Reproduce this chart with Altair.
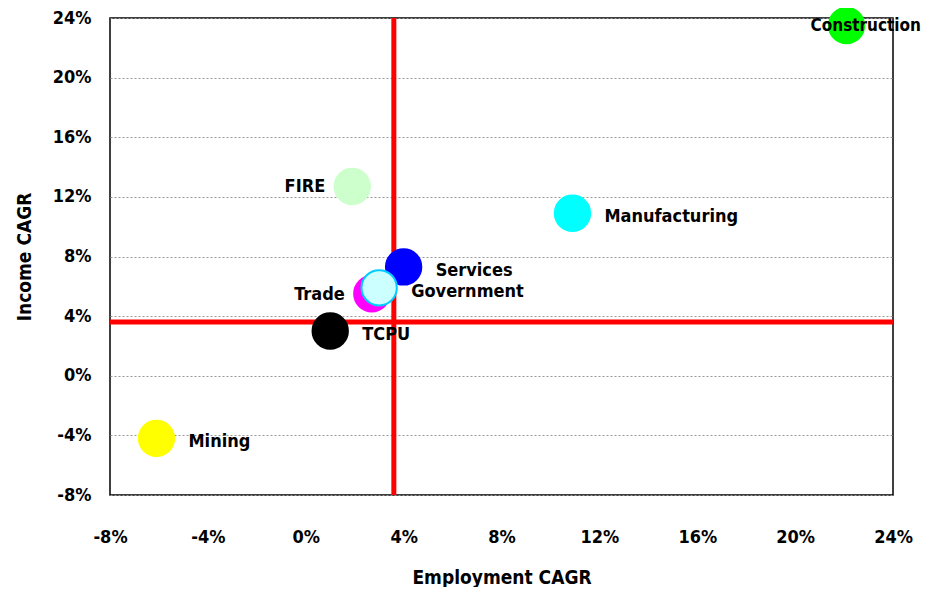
import altair as alt
import pandas as pd

sectors = ["Construction", "FIRE", "Manufacturing", "Services", "Trade", "Government", "TCPU", "Mining"]
employment = [0.221, 0.019, 0.109, 0.040, 0.027, 0.030, 0.010, -0.061]
income = [0.235, 0.127, 0.109, 0.073, 0.055, 0.059, 0.030, -0.042]
colors = ["#00FF00", "#CCFFCC", "#00FFFF", "#0000FF", "#FF00FF", "#CCFFFF", "#000000", "#FFFF00"]
strokes = ["#00FF00", "#CCFFCC", "#00FFFF", "#0000FF", "#FF00FF", "#00CCFF", "#000000", "#FFFF00"]
emp_mean = 0.036
inc_mean = 0.036
ticks = [-0.08, -0.04, 0.0, 0.04, 0.08, 0.12, 0.16, 0.20, 0.24]

df = pd.DataFrame({"sector": sectors, "emp": employment, "inc": income,
                   "order": list(range(len(sectors)))})

FONT = "DejaVu Sans Condensed, Liberation Sans Narrow, Arial Narrow, Liberation Sans"
LBL = "(datum.value < 0 ? '-' : '') + format(abs(datum.value), '.0%')"

xs = alt.Scale(domain=[-0.08, 0.24], nice=False, zero=False)
ys = alt.Scale(domain=[-0.08, 0.24], nice=False, zero=False)

base = alt.Chart(df)

points = base.mark_circle(opacity=1, size=1250, strokeWidth=2).encode(
    x=alt.X("emp:Q", scale=xs, title="Employment CAGR",
            axis=alt.Axis(values=ticks, labelExpr=LBL, grid=False, ticks=False, domain=False,
                          labelFlush=False, labelPadding=33, titlePadding=22)),
    y=alt.Y("inc:Q", scale=ys, title="Income CAGR",
            axis=alt.Axis(values=ticks, labelExpr=LBL, grid=True, ticks=False, domain=False,
                          labelFlush=False, labelPadding=19, titlePadding=18,
                          gridColor="#999999", gridDash=[2, 2], gridWidth=1)),
    color=alt.Color("sector:N", scale=alt.Scale(domain=sectors, range=colors), legend=None),
    stroke=alt.Stroke("sector:N", scale=alt.Scale(domain=sectors, range=strokes), legend=None),
    order=alt.Order("order:Q"),
)

vrule = alt.Chart(pd.DataFrame({"v": [emp_mean]})).mark_rule(color="#FF0000", strokeWidth=5).encode(
    x=alt.X("v:Q", scale=xs))
hrule = alt.Chart(pd.DataFrame({"v": [inc_mean]})).mark_rule(color="#FF0000", strokeWidth=5).encode(
    y=alt.Y("v:Q", scale=ys))

text_enc = dict(x=alt.X("emp:Q", scale=xs), y=alt.Y("inc:Q", scale=ys), text="sector:N")
tstyle = dict(font=FONT, fontSize=18, fontWeight="bold", color="#000000", baseline="middle")

right_lab = base.transform_filter(
    alt.FieldOneOfPredicate(field="sector", oneOf=["Manufacturing", "Services", "Government", "TCPU", "Mining"])
).mark_text(align="left", dx=32, dy=4, **tstyle).encode(**text_enc)

left_lab = base.transform_filter(
    alt.FieldOneOfPredicate(field="sector", oneOf=["FIRE", "Trade"])
).mark_text(align="right", dx=-27, dy=1, **tstyle).encode(**text_enc)

cons_lab = base.transform_filter(
    alt.FieldOneOfPredicate(field="sector", oneOf=["Construction"])
).mark_text(align="left", dx=-36, dy=1, fontSize=17, **{k: v for k, v in tstyle.items() if k != "fontSize"}).encode(**text_enc)

chart = alt.layer(vrule, hrule, points, right_lab, left_lab, cons_lab).properties(
    width=783, height=477,
    autosize=alt.AutoSizeParams(type="none"),
    padding={"left": 102, "top": 10, "right": 32, "bottom": 92},
).configure_view(
    stroke="#000000", strokeWidth=1.5
).configure_axis(
    labelFont=FONT, labelFontSize=18, labelFontWeight="bold", labelColor="#000000",
    titleFont=FONT, titleFontSize=19, titleFontWeight="bold", titleColor="#000000",
)

chart.save("out.html", embed_options={"renderer": "svg", "actions": False})
